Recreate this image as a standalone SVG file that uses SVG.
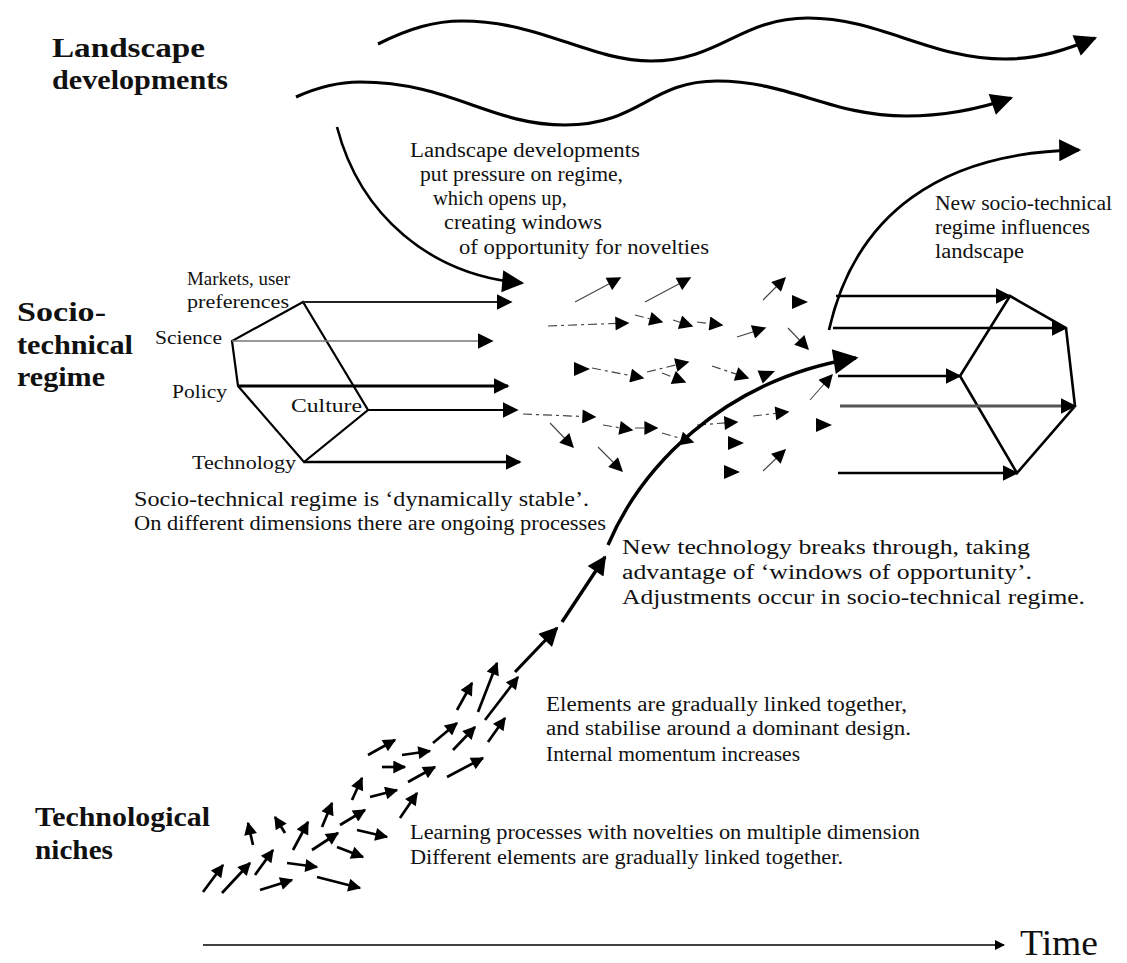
<svg xmlns="http://www.w3.org/2000/svg" xmlns:xlink="http://www.w3.org/1999/xlink" width="1127" height="963" viewBox="0 0 1127 963" xml:space="preserve">
<style>
.t{font-family:"Liberation Serif","Times New Roman",serif;fill:#111;white-space:pre}
.b{font-weight:bold;font-size:27px}
.r{font-size:20px}
.l{font-size:18px}
.wave{fill:none;stroke:#000;stroke-width:3.2;marker-end:url(#big)}
.hx{fill:none;stroke:#000;stroke-width:2.2;stroke-linejoin:miter}
.reg{fill:none;stroke:#000;stroke-width:2.4;marker-end:url(#med)}
.thin{fill:none;stroke:#444;stroke-width:1.1;marker-end:url(#sm)}
.dash{fill:none;stroke:#444;stroke-width:1.2;stroke-dasharray:9 4 3 4;marker-end:url(#sm)}
.nic{fill:none;stroke:#000;stroke-width:2.7;marker-end:url(#tiny)}
.main{fill:none;stroke:#000;stroke-width:3.2}
</style>
<defs>
<marker id="big" viewBox="0 0 10 10" refX="9" refY="5" markerWidth="27" markerHeight="22" markerUnits="userSpaceOnUse" orient="auto"><path d="M0,0 L10,5 L0,10 Z"/></marker>
<marker id="main" viewBox="0 0 10 10" refX="9" refY="5" markerWidth="27" markerHeight="25" markerUnits="userSpaceOnUse" orient="auto"><path d="M0,0 L10,5 L0,10 Z"/></marker>
<marker id="mid" viewBox="0 0 10 10" refX="9" refY="5" markerWidth="21" markerHeight="19" markerUnits="userSpaceOnUse" orient="auto"><path d="M0,0 L10,5 L0,10 Z"/></marker>
<marker id="med" viewBox="0 0 10 10" refX="9" refY="5" markerWidth="16" markerHeight="16" markerUnits="userSpaceOnUse" orient="auto"><path d="M0,0 L10,5 L0,10 Z"/></marker>
<marker id="sm" viewBox="0 0 10 10" refX="9" refY="5" markerWidth="16" markerHeight="14" markerUnits="userSpaceOnUse" orient="auto"><path d="M0,0 L10,5 L0,10 Z"/></marker>
<marker id="tiny" viewBox="0 0 10 10" refX="9" refY="5" markerWidth="15" markerHeight="13" markerUnits="userSpaceOnUse" orient="auto"><path d="M0,0 L10,5 L0,10 Z"/></marker>
<marker id="tm" viewBox="0 0 10 10" refX="9" refY="5" markerWidth="14" markerHeight="10" markerUnits="userSpaceOnUse" orient="auto"><path d="M0,0 L10,5 L0,10 Z"/></marker>
<path id="head" d="M0,0 L-16,-7 L-16,7 Z" fill="#000"/>
</defs>
<rect width="1127" height="963" fill="#fff"/>

<g id="landscape-label" class="t b">
<text x="52" y="57" textLength="153" lengthAdjust="spacingAndGlyphs">Landscape</text>
<text x="52" y="89" textLength="176" lengthAdjust="spacingAndGlyphs">developments</text>
</g>
<g id="regime-label" class="t b">
<text x="17" y="321" textLength="89" lengthAdjust="spacingAndGlyphs">Socio-</text>
<text x="17" y="354" textLength="116" lengthAdjust="spacingAndGlyphs">technical</text>
<text x="17" y="386" textLength="88" lengthAdjust="spacingAndGlyphs">regime</text>
</g>
<g id="niches-label" class="t b">
<text x="35" y="826" textLength="175" lengthAdjust="spacingAndGlyphs">Technological</text>
<text x="35" y="859" textLength="78" lengthAdjust="spacingAndGlyphs">niches</text>
</g>

<g id="pressure-text" class="t r">
<text x="410" y="157" textLength="230" lengthAdjust="spacingAndGlyphs">Landscape  developments</text>
<text x="420" y="181" textLength="203" lengthAdjust="spacingAndGlyphs">put pressure on regime,</text>
<text x="433" y="205" textLength="134" lengthAdjust="spacingAndGlyphs">which opens up,</text>
<text x="444" y="229" textLength="158" lengthAdjust="spacingAndGlyphs">creating windows</text>
<text x="459" y="254" textLength="250" lengthAdjust="spacingAndGlyphs">of opportunity for novelties</text>
</g>

<g id="new-regime-text" class="t r">
<text x="935" y="210" textLength="177" lengthAdjust="spacingAndGlyphs">New  socio-technical</text>
<text x="935" y="234" textLength="155" lengthAdjust="spacingAndGlyphs">regime influences</text>
<text x="935" y="258" textLength="89" lengthAdjust="spacingAndGlyphs">landscape</text>
</g>

<g id="regime-hexagon">
<path class="hx" d="M303,302 L232,341 L238,386 L304,462 L368,410 Z"/>
<g class="t l">
<text x="187" y="285" textLength="103" lengthAdjust="spacingAndGlyphs">Markets, user</text>
<text x="187" y="308" textLength="102" lengthAdjust="spacingAndGlyphs">preferences</text>
<text x="155" y="344" textLength="67" lengthAdjust="spacingAndGlyphs">Science</text>
<text x="172" y="398" textLength="55" lengthAdjust="spacingAndGlyphs">Policy</text>
<text x="291" y="412" textLength="71" lengthAdjust="spacingAndGlyphs">Culture</text>
<text x="192" y="469" textLength="104" lengthAdjust="spacingAndGlyphs">Technology</text>
</g>
</g>

<g id="new-regime-hexagon">
<path class="hx" style="stroke-width:2.6" d="M1010,296 L1066,328 L1075,406 L1017,473 L960,376 Z"/>
</g>

<g id="regime-stable-text" class="t r">
<text x="134" y="506" textLength="455" lengthAdjust="spacingAndGlyphs">Socio-technical regime  is ‘dynamically stable’.</text>
<text x="134" y="530" textLength="472" lengthAdjust="spacingAndGlyphs">On different dimensions there are ongoing processes</text>
</g>
<g id="breakthrough-text" class="t r">
<text x="622" y="554" textLength="408" lengthAdjust="spacingAndGlyphs">New technology breaks through, taking</text>
<text x="622" y="579" textLength="410" lengthAdjust="spacingAndGlyphs">advantage of ‘windows of opportunity’.</text>
<text x="622" y="604" textLength="463" lengthAdjust="spacingAndGlyphs">Adjustments occur in socio-technical regime.</text>
</g>
<g id="stabilise-text" class="t r">
<text x="546" y="711" textLength="361" lengthAdjust="spacingAndGlyphs">Elements are gradually linked together,</text>
<text x="546" y="735" textLength="365" lengthAdjust="spacingAndGlyphs">and stabilise around a dominant design.</text>
<text x="546" y="761" textLength="254" lengthAdjust="spacingAndGlyphs">Internal momentum  increases</text>
</g>
<g id="learning-text" class="t r">
<text x="410" y="839" textLength="510" lengthAdjust="spacingAndGlyphs">Learning processes with novelties on multiple dimension</text>
<text x="410" y="864" textLength="433" lengthAdjust="spacingAndGlyphs">Different elements are gradually linked together.</text>
</g>
<g id="time-label" class="t">
<text x="1020" y="955" style="font-size:36px" textLength="78" lengthAdjust="spacingAndGlyphs">Time</text>
</g>

<g id="connectors">
<path class="wave" d="M378,44 C410,28 435,21 462,21 C540,21 590,61 651,61 C720,61 740,18 808,18 C880,18 930,59 1005,59 C1040,59 1068,49 1095,38"/>
<path class="wave" d="M296,97 C318,87 338,82 360,82 C450,82 490,125 565,125 C640,125 650,81 717,81 C790,81 830,116 906,116 C950,116 985,107 1011,98"/>
<path class="wave" style="stroke-width:2.6" d="M337,127 C360,215 430,275 522,283"/>
<path class="wave" style="stroke-width:2.8" d="M829,330 C855,215 940,152 1079,150"/>

<path class="reg" style="stroke:#222;stroke-width:2" d="M303,302 L511,302"/>
<path class="reg" style="stroke:#777;stroke-width:1.3" d="M232,341 L492,341"/>
<path class="reg" style="stroke-width:3" d="M238,386 L508,386"/>
<path class="reg" style="stroke-width:1.8" d="M368,410 L517,410"/>
<path class="reg" style="stroke-width:2.6" d="M304,462 L520,462"/>

<path class="reg" d="M836,296 L1010,296"/>
<path class="reg" d="M833,328 L1066,328"/>
<path class="reg" d="M838,376 L960,376"/>
<path class="reg" style="stroke:#555;stroke-width:3" d="M840,406 L1075,406"/>
<path class="reg" d="M838,473 L1017,473"/>

<path class="thin" d="M575,302 L620,278"/>
<path class="thin" d="M645,302 L690,278"/>
<path class="dash" d="M548,326 L628,323"/>
<path class="dash" d="M635,315 L662,322"/>
<path class="dash" d="M673,320 L692,326"/>
<path class="dash" d="M697,322 L722,325"/>
<path class="thin" d="M737,337 L765,328"/>
<path class="thin" d="M763,300 L785,278"/>
<use xlink:href="#head" href="#head" transform="translate(808,302)"/>
<path class="thin" d="M788,328 L808,349"/>
<use xlink:href="#head" href="#head" transform="translate(590,369)"/>
<path class="dash" d="M592,368 L643,378"/>
<path class="dash" d="M647,372 L688,362"/>
<path class="dash" d="M662,373 L685,382"/>
<path class="dash" d="M712,366 L748,378"/>
<path class="thin" d="M810,400 L832,375"/>
<path class="dash" d="M523,414 L595,417"/>
<path class="thin" d="M550,423 L573,447"/>
<path class="dash" d="M603,425 L632,430"/>
<path class="dash" d="M635,428 L657,428"/>
<path class="dash" d="M662,433 L693,442"/>
<path class="dash" d="M697,425 L737,422"/>
<path class="dash" d="M753,416 L788,412"/>
<use xlink:href="#head" href="#head" transform="translate(832,425)"/>
<path class="thin" d="M598,447 L622,471"/>
<use xlink:href="#head" href="#head" transform="translate(744,443)"/>
<use xlink:href="#head" href="#head" transform="translate(740,472)"/>
<path class="thin" d="M763,471 L785,450"/>
<use xlink:href="#head" href="#head" transform="translate(775,371) rotate(-22)"/>

<path class="main" style="marker-end:url(#mid)" d="M515,672 L557,628"/>
<path class="main" style="marker-end:url(#mid);stroke-width:3.4" d="M562,622 L605,557"/>
<path class="main" style="marker-end:url(#main);stroke-width:3.4" d="M608,545 C640,470 720,380 856,358"/>

<path class="nic" d="M457,710 L472,683"/>
<path class="nic" d="M478,712 L497,663"/>
<path class="nic" d="M485,720 L518,677"/>
<path class="nic" d="M433,743 L457,723"/>
<path class="nic" d="M453,750 L475,727"/>
<path class="nic" d="M488,742 L505,718"/>
<path class="nic" d="M368,755 L395,740"/>
<path class="nic" d="M402,755 L430,751"/>
<path class="nic" d="M382,767 L405,767"/>
<path class="nic" d="M408,782 L435,767"/>
<path class="nic" d="M447,777 L483,758"/>
<path class="nic" d="M352,800 L362,778"/>
<path class="nic" d="M370,797 L397,790"/>
<path class="nic" d="M400,818 L417,793"/>
<path class="nic" d="M322,827 L332,803"/>
<path class="nic" d="M340,825 L365,810"/>
<path class="nic" d="M357,830 L387,837"/>
<path class="nic" d="M253,845 L248,823"/>
<path class="nic" d="M285,833 L275,817"/>
<path class="nic" d="M293,850 L308,822"/>
<path class="nic" d="M312,850 L338,833"/>
<path class="nic" d="M337,847 L363,857"/>
<path class="nic" d="M203,892 L223,865"/>
<path class="nic" d="M222,893 L250,863"/>
<path class="nic" d="M255,875 L273,850"/>
<path class="nic" d="M287,863 L317,867"/>
<path class="nic" d="M260,890 L292,880"/>
<path class="nic" d="M317,877 L360,888"/>

<path fill="none" stroke="#000" stroke-width="1.6" marker-end="url(#tm)" d="M203,945 L1004,945"/>
</g>
</svg>
